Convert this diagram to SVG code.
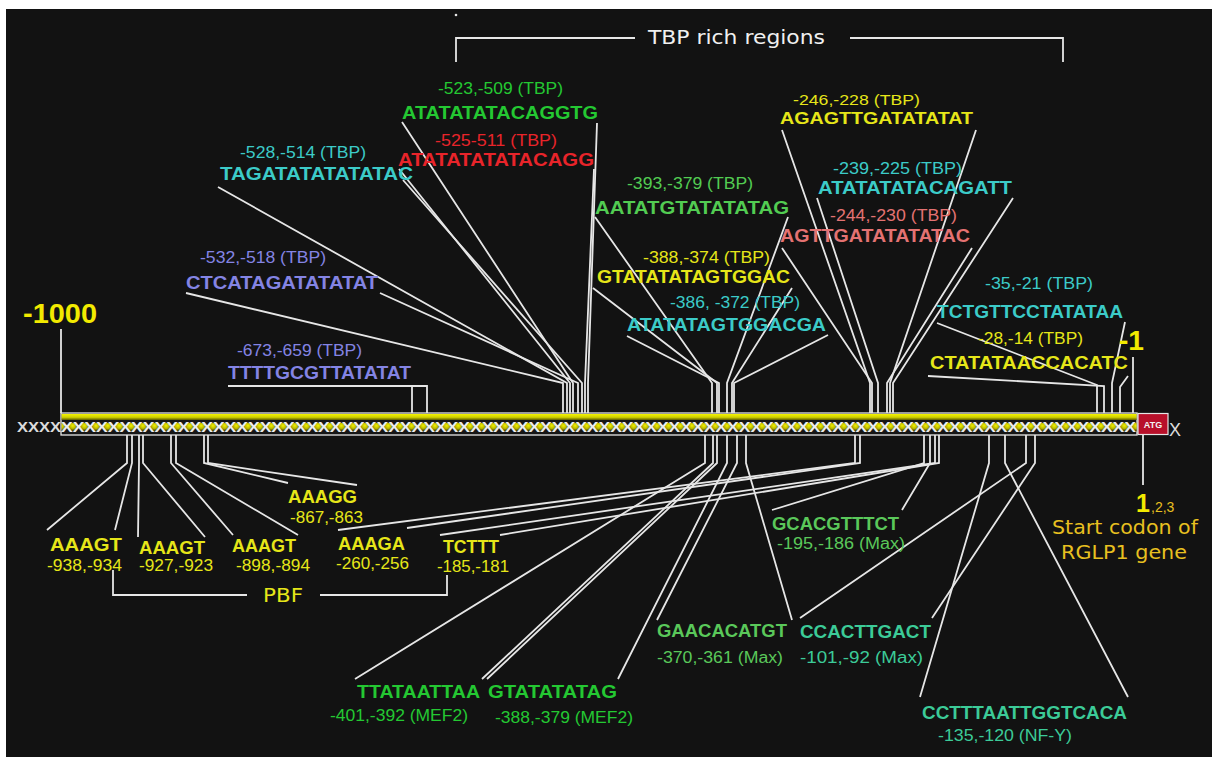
<svg xmlns="http://www.w3.org/2000/svg" width="1217" height="764" viewBox="0 0 1217 764">
<style>
.s{font-family:"Liberation Sans",Arial,sans-serif;font-weight:bold;font-size:18px}
.n{font-family:"Liberation Sans",Arial,sans-serif;font-size:16px}
.d{font-family:"DejaVu Sans",Verdana,sans-serif;font-size:20px}
.big{font-family:"Liberation Sans",Arial,sans-serif;font-weight:bold;font-size:28px}
.ln{stroke:#e6e6e6;stroke-width:1.8;fill:none}
.g{fill:#24c832}.r{fill:#e8242a}.c{fill:#3ccbc8}.v{fill:#8484e4}.lg{fill:#52cc52}
.y{fill:#e6e619}.p{fill:#e47272}.t{fill:#3ccb98}.gold{fill:#e8c020}.w{fill:#f0f0f0}
.mg{fill:#5ac85a}
</style>
<defs>
<linearGradient id="yb" x1="0" y1="0" x2="0" y2="1">
<stop offset="0" stop-color="#f4f400"/><stop offset="0.55" stop-color="#d0d000"/><stop offset="1" stop-color="#5a5a00"/>
</linearGradient>
<radialGradient id="dg" cx="50%" cy="35%" r="60%">
<stop offset="0" stop-color="#f4f400"/><stop offset="0.55" stop-color="#b8b800"/><stop offset="1" stop-color="#3a3a00"/>
</radialGradient>
<pattern id="dots" x="61" y="420" width="11.685" height="14" patternUnits="userSpaceOnUse">
<circle cx="0" cy="7" r="4.3" fill="url(#dg)"/><circle cx="11.685" cy="7" r="4.3" fill="url(#dg)"/>
</pattern>
</defs>
<rect width="1217" height="764" fill="#ffffff"/>
<rect x="6" y="9" width="1206" height="748" fill="#121212"/>

<g id="bar">
<rect x="61" y="413" width="1076" height="22" fill="#161616" stroke="#e6e6e6" stroke-width="1.3"/>
<rect x="61.6" y="414" width="1075" height="6" fill="url(#yb)"/>
<rect x="61.6" y="420" width="1075" height="14" fill="url(#dots)"/>
<text x="61" y="432" textLength="1075" lengthAdjust="spacingAndGlyphs" style="font-family:'Liberation Sans',Arial,sans-serif;font-weight:bold;font-size:14px" fill="#ececec">XXXXXXXXXXXXXXXXXXXXXXXXXXXXXXXXXXXXXXXXXXXXXXXXXXXXXXXXXXXXXXXXXXXXXXXXXXXXXXXXXXXXXXXXXXXX</text>
<text x="17" y="432" textLength="44" lengthAdjust="spacingAndGlyphs" style="font-family:'Liberation Sans',Arial,sans-serif;font-weight:bold;font-size:14px" fill="#dcdcdc">XXXX</text>
<rect x="1138" y="413.5" width="30" height="21" fill="#b8102a" stroke="#e6e6e6" stroke-width="1.2"/>
<text x="1153" y="428" text-anchor="middle" style="font-family:'Liberation Sans',Arial,sans-serif;font-weight:bold;font-size:9px" fill="#f4f4f4">ATG</text>
<text x="1169" y="436" style="font-family:'Liberation Sans',Arial,sans-serif;font-size:18px" fill="#dcdcdc">X</text>
</g>

<g id="connectors" class="ln">
<path d="M456,62 V38 H635 M850,38 H1063 V62"/>
<path d="M61,329 V413"/>
<path d="M228,386 H427 V413 M412,386 V413"/>
<path d="M186,293 L563,383 V413"/>
<path d="M380,293 L578,383 V413"/>
<path d="M218,187 L567,383 V413"/>
<path d="M403,180 L582,383 V413"/>
<path d="M402,122 L573,383 V413"/>
<path d="M597,123 L588,383 V413"/>
<path d="M399,169 L570,383 V413"/>
<path d="M594,169 L585,383 V413"/>
<path d="M595,217 L712,383 V413"/>
<path d="M788,217 L727,383 V413"/>
<path d="M593,288 L717,383 V413"/>
<path d="M792,288 L732,383 V413"/>
<path d="M627,336 L719,383 V413"/>
<path d="M828,335 L734,383 V413"/>
<path d="M782,130 L870,383 V413"/>
<path d="M976,130 L890,383 V413"/>
<path d="M817,198 L878,383 V413"/>
<path d="M1013,198 L893,383 V413"/>
<path d="M782,248 L872,383 V413"/>
<path d="M972,248 L887,383 V413"/>
<path d="M937,323 L1097,385 V413"/>
<path d="M1125,322 L1112,383 V413"/>
<path d="M928,376 L1104,386 V413"/>
<path d="M1128,376 L1120,387 V413"/>
<path d="M1133,357 V413"/>
<path d="M127,435 V463 L47,530"/>
<path d="M132,435 V463 L115,530"/>
<path d="M139,435 V463 L138,537"/>
<path d="M143,435 V463 L205,537"/>
<path d="M171,435 V463 L233,535"/>
<path d="M176,435 V463 L298,535"/>
<path d="M204,435 V463 L288,483"/>
<path d="M208,435 V463 L357,485"/>
<path d="M855,435 V463 L338,530"/>
<path d="M860,435 V463 L407,528"/>
<path d="M935,435 V463 L440,535"/>
<path d="M939,435 V463 L500,535"/>
<path d="M924,435 V463 L772,510"/>
<path d="M930,435 V463 L902,510"/>
<path d="M705,435 V463 L355,679"/>
<path d="M713,435 V463 L482,679"/>
<path d="M717,435 V463 L487,679"/>
<path d="M727,435 V463 L618,679"/>
<path d="M737,435 V463 L657,620"/>
<path d="M746,435 V463 L792,620"/>
<path d="M989,435 V463 L920,697"/>
<path d="M1005,435 V463 L1128,697"/>
<path d="M1026,435 V463 L800,618"/>
<path d="M1035,435 V463 L932,618"/>
<path d="M113,570 V595 H247 M320,595 H447 V575"/>
<path d="M1143,435 V485"/>
<circle cx="456" cy="15" r="1.3" fill="#e6e6e6" stroke="none"/>
</g>

<g id="title"><text class="d w" x="648" y="44" textLength="177" lengthAdjust="spacingAndGlyphs">TBP rich regions</text></g>
<g id="start1000"><text class="big" x="23" y="323" textLength="74" lengthAdjust="spacingAndGlyphs" fill="#f2ea00">-1000</text></g>
<g id="end1"><text class="big" x="1119" y="350" textLength="25" lengthAdjust="spacingAndGlyphs" fill="#f2ea00">-1</text></g>

<g id="n523"><text class="n g" x="438" y="94" textLength="125" lengthAdjust="spacingAndGlyphs">-523,-509 (TBP)</text><text class="s g" x="402" y="119" textLength="196" lengthAdjust="spacingAndGlyphs">ATATATATACAGGTG</text></g>
<g id="n525"><text class="n r" x="435" y="146" textLength="122" lengthAdjust="spacingAndGlyphs">-525-511 (TBP)</text><text class="s r" x="398" y="166" textLength="196" lengthAdjust="spacingAndGlyphs">ATATATATATACAGG</text></g>
<g id="n528"><text class="n c" x="240" y="158" textLength="126" lengthAdjust="spacingAndGlyphs">-528,-514 (TBP)</text><text class="s c" x="220" y="180" textLength="193" lengthAdjust="spacingAndGlyphs">TAGATATATATATAC</text></g>
<g id="n532"><text class="n v" x="200" y="263" textLength="126" lengthAdjust="spacingAndGlyphs">-532,-518 (TBP)</text><text class="s v" x="186" y="289" textLength="192" lengthAdjust="spacingAndGlyphs">CTCATAGATATATAT</text></g>
<g id="n673"><text class="n v" x="237" y="356" textLength="125" lengthAdjust="spacingAndGlyphs">-673,-659 (TBP)</text><text class="s v" x="228" y="379" textLength="183" lengthAdjust="spacingAndGlyphs">TTTTGCGTTATATAT</text></g>
<g id="n393"><text class="n lg" x="627" y="189" textLength="126" lengthAdjust="spacingAndGlyphs">-393,-379 (TBP)</text><text class="s lg" x="595" y="214" textLength="194" lengthAdjust="spacingAndGlyphs">AATATGTATATATAG</text></g>
<g id="n388"><text class="n y" x="643" y="263" textLength="127" lengthAdjust="spacingAndGlyphs">-388,-374 (TBP)</text><text class="s y" x="597" y="283" textLength="193" lengthAdjust="spacingAndGlyphs">GTATATATAGTGGAC</text></g>
<g id="n386"><text class="n c" x="670" y="308" textLength="130" lengthAdjust="spacingAndGlyphs">-386, -372 (TBP)</text><text class="s c" x="627" y="331" textLength="199" lengthAdjust="spacingAndGlyphs">ATATATAGTGGACGA</text></g>
<g id="n246"><text class="n y" x="793" y="105" textLength="127" lengthAdjust="spacingAndGlyphs" style="font-size:15px">-246,-228 (TBP)</text><text class="s y" x="780" y="124" textLength="193" lengthAdjust="spacingAndGlyphs" style="font-size:17px">AGAGTTGATATATAT</text></g>
<g id="n239"><text class="n c" x="833" y="174" textLength="129" lengthAdjust="spacingAndGlyphs">-239,-225 (TBP)</text><text class="s c" x="818" y="194" textLength="194" lengthAdjust="spacingAndGlyphs">ATATATATACAGATT</text></g>
<g id="n244"><text class="n p" x="830" y="221" textLength="127" lengthAdjust="spacingAndGlyphs">-244,-230 (TBP)</text><text class="s p" x="780" y="242" textLength="190" lengthAdjust="spacingAndGlyphs">AGTTGATATATATAC</text></g>
<g id="n35"><text class="n c" x="985" y="289" textLength="108" lengthAdjust="spacingAndGlyphs">-35,-21 (TBP)</text><text class="s c" x="937" y="318" textLength="186" lengthAdjust="spacingAndGlyphs">TCTGTTCCTATATAA</text></g>
<g id="n28"><text class="n y" x="978" y="344" textLength="105" lengthAdjust="spacingAndGlyphs">-28,-14 (TBP)</text><text class="s y" x="930" y="369" textLength="198" lengthAdjust="spacingAndGlyphs">CTATATAACCACATC</text></g>

<g id="n867"><text class="s y" x="288" y="503" textLength="69" lengthAdjust="spacingAndGlyphs">AAAGG</text><text class="n y" x="290" y="523" textLength="73" lengthAdjust="spacingAndGlyphs">-867,-863</text></g>
<g id="n938"><text class="s y" x="50" y="551" textLength="72" lengthAdjust="spacingAndGlyphs">AAAGT</text><text class="n y" x="47" y="571" textLength="75" lengthAdjust="spacingAndGlyphs">-938,-934</text></g>
<g id="n927"><text class="s y" x="139" y="554" textLength="66" lengthAdjust="spacingAndGlyphs">AAAGT</text><text class="n y" x="139" y="571" textLength="74" lengthAdjust="spacingAndGlyphs">-927,-923</text></g>
<g id="n898"><text class="s y" x="232" y="552" textLength="64" lengthAdjust="spacingAndGlyphs">AAAGT</text><text class="n y" x="236" y="571" textLength="74" lengthAdjust="spacingAndGlyphs">-898,-894</text></g>
<g id="n260"><text class="s y" x="338" y="550" textLength="67" lengthAdjust="spacingAndGlyphs">AAAGA</text><text class="n y" x="336" y="569" textLength="73" lengthAdjust="spacingAndGlyphs">-260,-256</text></g>
<g id="n185"><text class="s y" x="443" y="553" textLength="56" lengthAdjust="spacingAndGlyphs">TCTTT</text><text class="n y" x="437" y="572" textLength="72" lengthAdjust="spacingAndGlyphs">-185,-181</text></g>
<g id="pbf"><text class="d y" x="263" y="602" textLength="40" lengthAdjust="spacingAndGlyphs">PBF</text></g>
<g id="n195"><text class="s mg" x="772" y="530" textLength="127" lengthAdjust="spacingAndGlyphs">GCACGTTTCT</text><text class="n mg" x="777" y="549" textLength="128" lengthAdjust="spacingAndGlyphs">-195,-186 (Max)</text></g>
<g id="n370"><text class="s mg" x="657" y="637" textLength="130" lengthAdjust="spacingAndGlyphs">GAACACATGT</text><text class="n mg" x="657" y="663" textLength="126" lengthAdjust="spacingAndGlyphs">-370,-361 (Max)</text></g>
<g id="n401"><text class="s g" x="357" y="698" textLength="123" lengthAdjust="spacingAndGlyphs">TTATAATTAA</text><text class="n g" x="330" y="721" textLength="138" lengthAdjust="spacingAndGlyphs">-401,-392 (MEF2)</text></g>
<g id="n388m"><text class="s g" x="488" y="698" textLength="129" lengthAdjust="spacingAndGlyphs">GTATATATAG</text><text class="n g" x="495" y="723" textLength="138" lengthAdjust="spacingAndGlyphs">-388,-379 (MEF2)</text></g>
<g id="n101"><text class="s t" x="800" y="638" textLength="131" lengthAdjust="spacingAndGlyphs">CCACTTGACT</text><text class="n t" x="800" y="663" textLength="123" lengthAdjust="spacingAndGlyphs">-101,-92 (Max)</text></g>
<g id="n135"><text class="s t" x="922" y="719" textLength="205" lengthAdjust="spacingAndGlyphs">CCTTTAATTGGTCACA</text><text class="n t" x="938" y="741" textLength="134" lengthAdjust="spacingAndGlyphs">-135,-120 (NF-Y)</text></g>
<g id="startcodon"><text class="big" x="1136" y="512" style="font-size:25px" fill="#f2ea00">1</text><text class="n gold" x="1151" y="512" style="font-size:14px">,2,3</text><text class="d gold" x="1052" y="534" textLength="146" lengthAdjust="spacingAndGlyphs">Start codon of</text><text class="d gold" x="1061" y="559" textLength="126" lengthAdjust="spacingAndGlyphs">RGLP1 gene</text></g>
</svg>
